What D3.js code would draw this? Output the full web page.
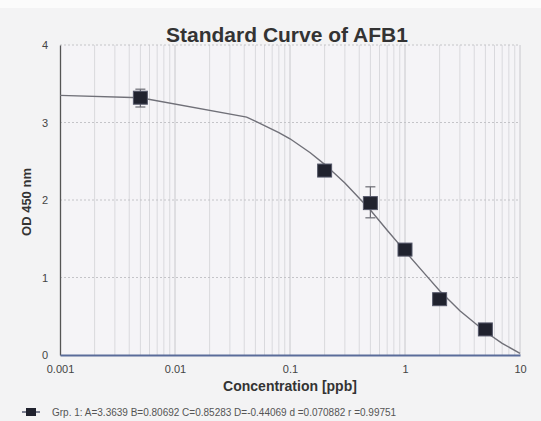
<!DOCTYPE html>
<html><head><meta charset="utf-8">
<script src="https://cdn.jsdelivr.net/npm/d3@7"></script>
<style>
html,body{margin:0;padding:0;background:#f3f3f4;}
svg{display:block;font-family:"Liberation Sans",Arial,sans-serif;}
</style></head>
<body>
<svg id="c" width="541" height="421"></svg>
<script>
// Data
const concentrations = [0.005, 0.2, 0.5, 1, 2, 5];
const odMeans        = [3.32, 2.38, 1.96, 1.36, 0.72, 0.33];
const odLow          = [3.20, 2.33, 1.77, 1.33, 0.69, 0.30];
const odHigh         = [3.43, 2.45, 2.17, 1.40, 0.75, 0.36];
const curveX = [0.001, 0.005, 0.042, 0.06, 0.08, 0.1, 0.15, 0.2, 0.3, 0.5, 0.7, 1, 1.5, 2, 3, 5, 7, 10];
const curveY = [3.35, 3.32, 3.07, 2.96, 2.87, 2.79, 2.61, 2.46, 2.22, 1.87, 1.61, 1.34, 1.04, 0.83, 0.57, 0.30, 0.15, 0.02];
const xTickValues = [0.001, 0.01, 0.1, 1, 10];
const xTickLabels = ["0.001", "0.01", "0.1", "1", "10"];
const yTickValues = [0, 1, 2, 3, 4];
const titleText = "Standard Curve of AFB1";
const xTitle = "Concentration [ppb]";
const yTitle = "OD 450 nm";
const legendText = "Grp. 1:  A=3.3639 B=0.80692 C=0.85283 D=-0.44069  d =0.070882  r =0.99751";

const svg = d3.select("#c");
const W = 541, H = 421;
const m = {left: 60, right: 20, top: 45, bottom: 66};
const x = d3.scaleLog().domain([0.001, 10]).range([m.left, 520]);
const y = d3.scaleLinear().domain([0, 4]).range([355, 45]);

svg.append("rect").attr("width", W).attr("height", H).attr("fill", "#f3f3f4");
svg.append("rect").attr("width", W).attr("height", 8).attr("fill", "#fbfbfb");
svg.append("rect").attr("x", m.left).attr("y", 45).attr("width", 460).attr("height", 310).attr("fill", "#f5f4f7");

// vertical grid (major + minor)
const minor = [];
for (let e = -3; e < 1; e++) for (let k = 1; k <= 9; k++) minor.push(k * Math.pow(10, e));
minor.push(10);
svg.append("g").selectAll("line").data(minor.filter(v => v > 0.001)).join("line")
  .attr("x1", d => x(d)).attr("x2", d => x(d))
  .attr("y1", y(4)).attr("y2", y(0))
  .attr("stroke", d => Math.abs(Math.log10(d) - Math.round(Math.log10(d))) < 1e-9 ? "#c8c8cc" : "#d9d9dd")
  .attr("stroke-width", 1);
// horizontal grid
svg.append("g").selectAll("line").data(yTickValues.filter(v => v > 0)).join("line")
  .attr("x1", m.left).attr("x2", x(10))
  .attr("y1", d => y(d)).attr("y2", d => y(d))
  .attr("stroke", "#c4c4c8").attr("stroke-dasharray", "2,2");

// axes
const yAxis = d3.axisLeft(y).tickValues(yTickValues).tickSize(0).tickPadding(12).tickFormat(d3.format("d"));
const gy = svg.append("g").attr("transform", `translate(${m.left},0)`).call(yAxis);
gy.select(".domain").attr("stroke", "#555").attr("stroke-width", 1.3);
gy.selectAll("text").attr("font-size", 11).attr("fill", "#444");

const xAxis = d3.axisBottom(x).tickValues(xTickValues).tickSize(0).tickPadding(10)
  .tickFormat((d, i) => xTickLabels[i]);
const gx = svg.append("g").attr("transform", `translate(0,${y(0)})`).call(xAxis);
gx.select(".domain").attr("stroke", "#5a6c9a").attr("stroke-width", 2);
gx.selectAll("text").attr("font-size", 11).attr("fill", "#444");

// curve
const line = d3.line().x(d => x(d[0])).y(d => y(d[1]));
svg.append("path").datum(curveX.map((c, i) => [c, curveY[i]]))
  .attr("d", line).attr("fill", "none").attr("stroke", "#707078").attr("stroke-width", 1.4);

// error bars
const pts = concentrations.map((c, i) => ({c, m: odMeans[i], lo: odLow[i], hi: odHigh[i]}));
const eb = svg.append("g").attr("stroke", "#6a6a72").attr("stroke-width", 1.2);
eb.selectAll("line.v").data(pts).join("line").attr("class", "v")
  .attr("x1", d => x(d.c)).attr("x2", d => x(d.c)).attr("y1", d => y(d.lo)).attr("y2", d => y(d.hi));
eb.selectAll("line.t").data(pts).join("line").attr("class", "t")
  .attr("x1", d => x(d.c) - 5).attr("x2", d => x(d.c) + 5).attr("y1", d => y(d.hi)).attr("y2", d => y(d.hi));
eb.selectAll("line.b").data(pts).join("line").attr("class", "b")
  .attr("x1", d => x(d.c) - 5).attr("x2", d => x(d.c) + 5).attr("y1", d => y(d.lo)).attr("y2", d => y(d.lo));

// markers
svg.append("g").selectAll("rect").data(pts).join("rect")
  .attr("x", d => x(d.c) - 7).attr("y", d => y(d.m) - 6.5)
  .attr("width", 14).attr("height", 13)
  .attr("fill", "#20222e").attr("stroke", "#55586a").attr("stroke-width", 1);

// titles
svg.append("text").attr("x", 287).attr("y", 42).attr("text-anchor", "middle")
  .attr("font-size", 21).attr("font-weight", "bold").attr("fill", "#333").text(titleText);
svg.append("text").attr("x", 290).attr("y", 391).attr("text-anchor", "middle")
  .attr("font-size", 14).attr("font-weight", "bold").attr("fill", "#333").text(xTitle);
svg.append("text").attr("transform", "translate(31,202) rotate(-90)").attr("text-anchor", "middle")
  .attr("font-size", 13).attr("font-weight", "bold").attr("fill", "#333").text(yTitle);

// legend
const lg = svg.append("g").attr("transform", "translate(0,412)");
lg.append("line").attr("x1", 22).attr("x2", 40).attr("y1", 0).attr("y2", 0).attr("stroke", "#555a70").attr("stroke-width", 1.5);
lg.append("rect").attr("x", 26).attr("y", -4).attr("width", 10).attr("height", 8).attr("fill", "#20222e");
lg.append("text").attr("x", 52).attr("y", 3.5).attr("font-size", 10).attr("fill", "#555").text(legendText);
</script>
</body></html>
